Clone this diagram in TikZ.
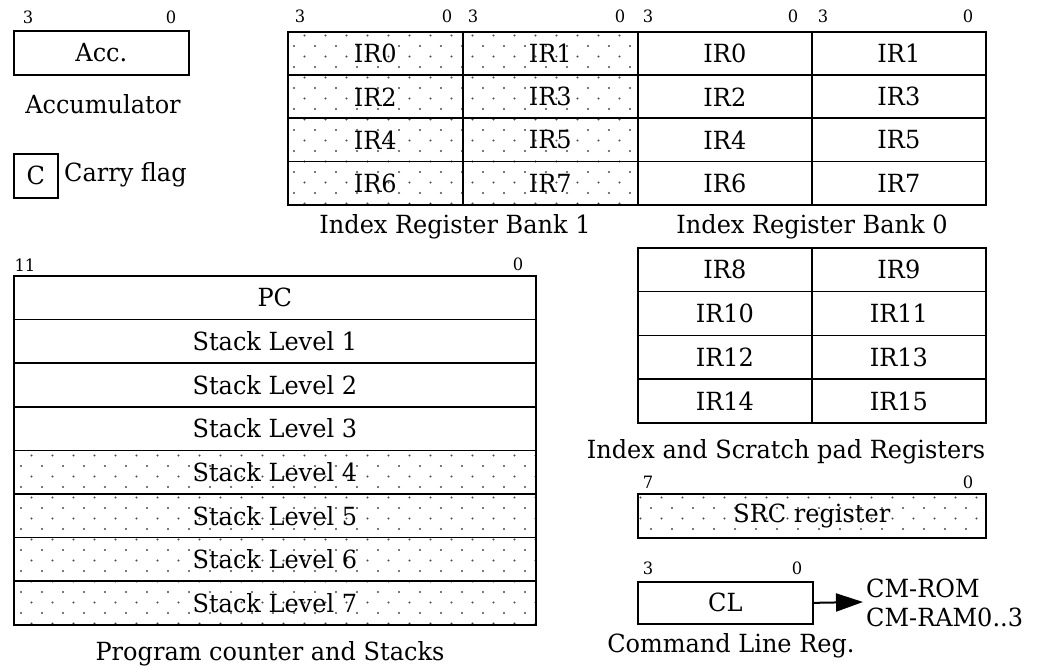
\documentclass[tikz,border=0pt]{standalone}
\usepackage{fontspec}
\setmainfont{DejaVu Serif}[FakeStretch=0.96]
\usetikzlibrary{arrows.meta}
\tikzset{
  box/.style={draw, line width=1.7pt, anchor=north west, inner sep=0pt, font=\mainfnt},
  lbl/.style={inner sep=0pt, font=\mainfnt},
  bit/.style={inner sep=0pt, font=\bitfnt},
  dotc/.style={fill=black!70}
}
\newcommand\mainfnt{\fontsize{25}{27}\selectfont}
\newcommand\bitfnt{\fontsize{17}{18}\selectfont}
\newcommand\dotregion[4]{%
  \pgfmathtruncatemacro\rA{floor(#2/10.5)}%
  \pgfmathtruncatemacro\rB{ceil(#4/10.5)}%
  \pgfmathtruncatemacro\cA{floor(#1/21)-1}%
  \pgfmathtruncatemacro\cB{ceil(#3/21)}%
  \begin{scope}
    \clip (#1,#2) rectangle (#3,#4);
    \foreach \r in {\rA,...,\rB}{%
      \foreach \c in {\cA,...,\cB}{%
        \fill[dotc] ({\c*21+mod(\r,2)*10.5},{\r*10.5+4}) circle (1.1pt);
      }%
    }%
  \end{scope}%
}
\begin{document}
\begin{tikzpicture}[x=1pt,y=-1pt]
\useasboundingbox (0,0) rectangle (1041,668);
\fill[white] (0,0) rectangle (1041,668);

% dotted fills
\dotregion{287}{31}{637}{204}
\dotregion{13}{449.4}{535}{624}
\dotregion{637}{493}{985}{537}

% Accumulator
\node[box, minimum width=175pt, minimum height=44pt] (acc) at (13,30) {Acc.};
\node[bit] (accb3) at (28,17) {3};
\node[bit] (accb0) at (171,17) {0};
\node[lbl] (accl) at (103,104) {Accumulator};

% Carry
\node[box, minimum width=44pt, minimum height=44pt] (carry) at (13,153) {C};
\node[lbl, anchor=west] (carryl) at (64,175) {Carry flag};

% Index register banks
\foreach \n/\r in {0/0,2/1,4/2,6/3}{
  \pgfmathsetmacro\yy{31+\r*43.25}
  \pgfmathtruncatemacro\m{\n+1}
  \node[box, minimum width=175pt, minimum height=43.25pt] (bA\n) at (287,\yy) {IR\n};
  \node[box, minimum width=175pt, minimum height=43.25pt] (bA\m) at (462,\yy) {IR\m};
  \node[box, minimum width=174pt, minimum height=43.25pt] (bB\n) at (637,\yy) {IR\n};
  \node[box, minimum width=174pt, minimum height=43.25pt] (bB\m) at (811,\yy) {IR\m};
}
\foreach \x/\d [count=\k] in {300/3,447/0,473/3,620/0,648/3,793/0,823/3,968/0}{
  \node[bit] (bb\k) at (\x,16) {\d};
}
\node[lbl] (bank1) at (455,227) {Index Register Bank 1};
\node[lbl] (bank0) at (812,227) {Index Register Bank 0};

% scratch pad registers
\foreach \n/\r in {8/0,10/1,12/2,14/3}{
  \pgfmathsetmacro\yy{247+\r*43.75}
  \pgfmathtruncatemacro\m{\n+1}
  \node[box, minimum width=174pt, minimum height=43.75pt] (sp\n) at (637,\yy) {IR\n};
  \node[box, minimum width=174pt, minimum height=43.75pt] (sp\m) at (811,\yy) {IR\m};
}
\node[lbl] (scrl) at (786,452) {Index and Scratch pad Registers};

% SRC register
\node[box, minimum width=348pt, minimum height=44pt] (src) at (637,493) {SRC register};
\node[bit] (srcb7) at (648,482) {7};
\node[bit] (srcb0) at (968,482) {0};

% CL register
\node[box, minimum width=175pt, minimum height=42pt] (cl) at (637,581) {CL};
\node[bit] (clb3) at (648,568) {3};
\node[bit] (clb0) at (797,568) {0};
\coordinate (cltip) at (863,602);
\draw[line width=2pt, -{Triangle[length=27pt,width=18pt]}] (cl.east) -- (cltip);
\node[lbl, anchor=west] (cmrom) at (866,588) {CM-ROM};
\node[lbl, anchor=west] (cmram) at (866,617) {CM-RAM0..3};
\node[lbl] (cll) at (731,646) {Command Line Reg.};

% Program counter and stacks
\foreach \t [count=\k from 0] in {PC,Stack Level 1,Stack Level 2,Stack Level 3,Stack Level 4,Stack Level 5,Stack Level 6,Stack Level 7}{
  \pgfmathsetmacro\yy{275+\k*43.625}
  \node[box, minimum width=522pt, minimum height=43.625pt] (pc\k) at (13,\yy) {\t};
}
\node[bit] (pcb11) at (25,265) {11};
\node[bit] (pcb0) at (518,264) {0};
\node[lbl] (pcl) at (270,654) {Program counter and Stacks};
\end{tikzpicture}
\end{document}
